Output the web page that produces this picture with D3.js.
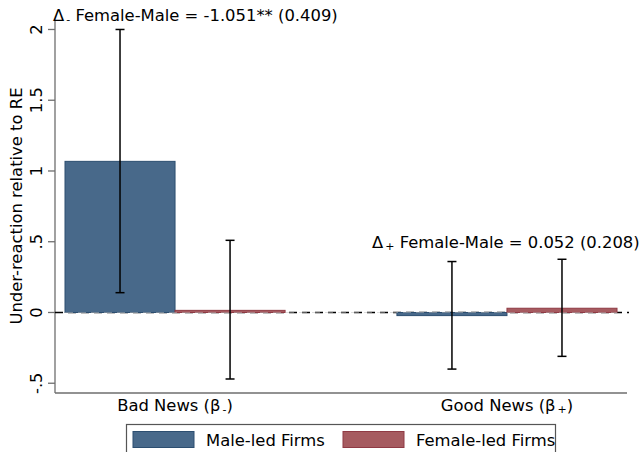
<!DOCTYPE html>
<html>
<head>
<meta charset="utf-8">
<script src="https://cdn.jsdelivr.net/npm/d3@7"></script>
<style>
  body { margin: 0; background: #fff; }
  svg { font-family: "DejaVu Sans", sans-serif; }
</style>
</head>
<body>
<div id="chart"></div>
<script>
// Chart data
const groups = ["Bad News", "Good News"];
const groupSubs = ["-", "+"];
const series = ["Male-led Firms", "Female-led Firms"];
const estimates = [[1.068, 0.015], [-0.022, 0.030]];
const ciLow = [[0.14, -0.47], [-0.40, -0.31]];
const ciHigh = [[2.00, 0.51], [0.36, 0.376]];
const yTicks = [-0.5, 0, 0.5, 1, 1.5, 2];
const yTickLabels = ["-.5", "0", ".5", "1", "1.5", "2"];
const diffLabels = ["Female-Male = -1.051** (0.409)", "Female-Male = 0.052 (0.208)"];

const fills = ["#48698a", "#a65b60"];
const strokes = ["#2c4e70", "#8f3a44"];
const fs = 16.4;

const width = 641, height = 452;
const svg = d3.select("#chart").append("svg")
    .attr("width", width).attr("height", height);

// Scales
const y = d3.scaleLinear().domain([-0.569, 2.067]).range([393, 20]);
const x0 = d3.scaleBand().domain(groups).range([65, 617]).paddingInner(0.337).paddingOuter(0);
const x1 = d3.scaleBand().domain(series).range([0, x0.bandwidth()]).padding(0);

// Axis lines
svg.append("line").attr("x1", 55).attr("x2", 55).attr("y1", y.range()[1]).attr("y2", y.range()[0])
    .attr("stroke", "#6e6e6e").attr("stroke-width", 1.3);
svg.append("line").attr("x1", 55).attr("x2", 627).attr("y1", 393).attr("y2", 393)
    .attr("stroke", "#6e6e6e").attr("stroke-width", 1.3);

// Y ticks
const yAxis = svg.append("g");
yAxis.selectAll("line").data(yTicks).join("line")
    .attr("x1", 48).attr("x2", 55)
    .attr("y1", d => y(d)).attr("y2", d => y(d))
    .attr("stroke", "#6e6e6e").attr("stroke-width", 1.3);
yAxis.selectAll("text").data(yTicks).join("text")
    .attr("transform", d => `translate(42,${y(d)}) rotate(-90)`)
    .attr("text-anchor", "middle")
    .attr("font-size", fs)
    .text((d, i) => yTickLabels[i]);

// Y title
svg.append("text")
    .attr("transform", `translate(22,206) rotate(-90)`)
    .attr("text-anchor", "middle")
    .attr("font-size", fs)
    .text("Under-reaction relative to RE");

// Zero line
svg.append("line").attr("x1", 55).attr("x2", 629).attr("y1", y(0)).attr("y2", y(0))
    .attr("stroke", "#000").attr("stroke-width", 1.3).attr("stroke-dasharray", "8,5");

// Bars
const flat = [];
groups.forEach((g, gi) => series.forEach((s, si) => {
  flat.push({ g, s, si, v: estimates[gi][si], lo: ciLow[gi][si], hi: ciHigh[gi][si] });
}));

svg.append("g").selectAll("rect").data(flat).join("rect")
    .attr("x", d => x0(d.g) + x1(d.s))
    .attr("width", x1.bandwidth())
    .attr("y", d => Math.min(y(d.v), y(0)))
    .attr("height", d => Math.max(Math.abs(y(d.v) - y(0)), 1.5))
    .attr("fill", d => fills[d.si])
    .attr("stroke", d => strokes[d.si])
    .attr("stroke-width", 1);

// light dash showing through the bars at zero
svg.append("line").attr("x1", 65).attr("x2", 617).attr("y1", y(0)).attr("y2", y(0))
    .attr("stroke", "#bbb").attr("stroke-opacity", 0.5).attr("stroke-width", 1.2).attr("stroke-dasharray", "8,5");

// Error bars
const err = svg.append("g").attr("stroke", "#000").attr("stroke-width", 1.5);
flat.forEach(d => {
  const cx = x0(d.g) + x1(d.s) + x1.bandwidth() / 2;
  err.append("line").attr("x1", cx).attr("x2", cx).attr("y1", y(d.lo)).attr("y2", y(d.hi));
  [d.lo, d.hi].forEach(v => err.append("line")
      .attr("x1", cx - 4.5).attr("x2", cx + 4.5).attr("y1", y(v)).attr("y2", y(v)));
});

// Group labels
groups.forEach((g, gi) => {
  const t = svg.append("text")
      .attr("x", x0(g) + x0.bandwidth() / 2)
      .attr("y", 411)
      .attr("text-anchor", "middle")
      .attr("font-size", fs);
  t.append("tspan").text(g + " (β");
  t.append("tspan").attr("font-size", 11).attr("dx", 2).attr("dy", 2).text(groupSubs[gi]);
  t.append("tspan").attr("dy", -2).text(")");
});

// Difference annotations
const annot = [
  { x: 53, y: 21, sub: groupSubs[0], text: diffLabels[0] },
  { x: 372, y: 248, sub: groupSubs[1], text: diffLabels[1] }
];
annot.forEach(a => {
  const t = svg.append("text").attr("x", a.x).attr("y", a.y).attr("font-size", fs);
  t.append("tspan").text("Δ");
  t.append("tspan").attr("font-size", 11).attr("dx", 2).attr("dy", 2).text(a.sub);
  t.append("tspan").attr("dy", -2).text(" " + a.text);
});

// Legend
svg.append("rect").attr("x", 126.5).attr("y", 424.5).attr("width", 429).attr("height", 40)
    .attr("fill", "#fff").attr("stroke", "#555").attr("stroke-width", 1.2);
const legX = [133, 343];
const leg = svg.append("g");
series.forEach((s, i) => {
  leg.append("rect").attr("x", legX[i]).attr("y", 431.5).attr("width", 61).attr("height", 16)
      .attr("fill", fills[i]).attr("stroke", strokes[i]).attr("stroke-width", 1);
  leg.append("text").attr("x", legX[i] + 73).attr("y", 446).attr("font-size", fs).text(s);
});
</script>
</body>
</html>
